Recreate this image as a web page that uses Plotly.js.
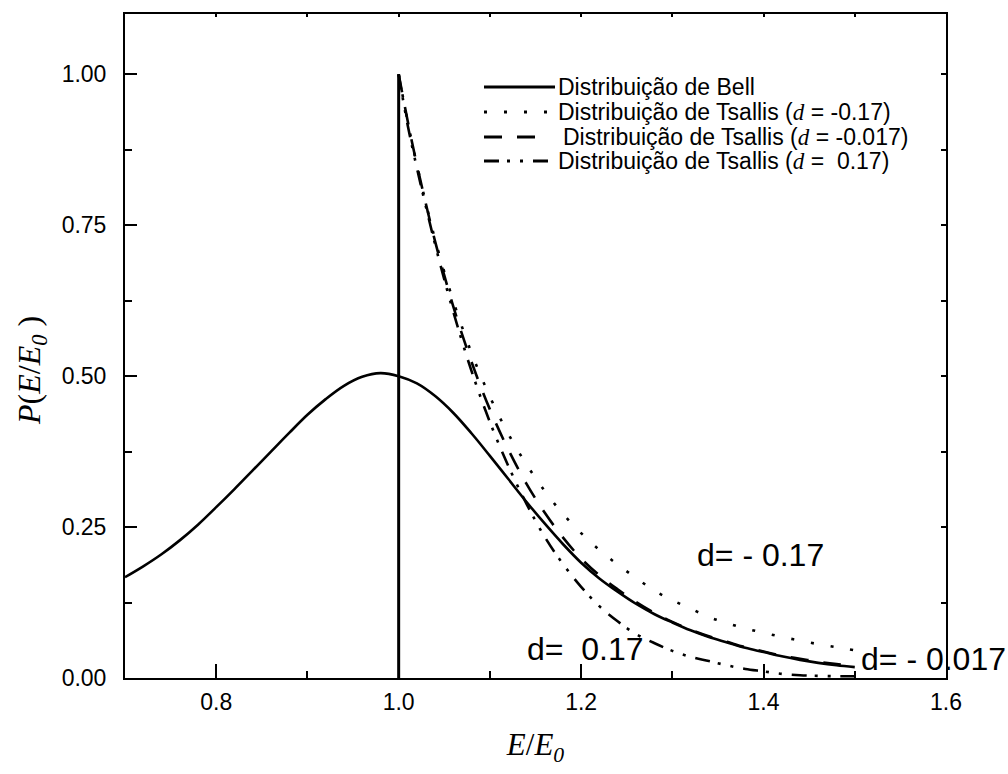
<!DOCTYPE html>
<html>
<head>
<meta charset="utf-8">
<script src="https://cdn.plot.ly/plotly-3.0.1.min.js"></script>
<style>
  html, body { margin: 0; padding: 0; background: #fff; }
  #chart { width: 1008px; height: 774px; }
</style>
</head>
<body>
<div id="chart"></div>
<script>
// Energy grid (E/E0) and probability values for each distribution
const bellE = [0.70, 0.72, 0.74, 0.76, 0.78, 0.80, 0.82, 0.84, 0.86, 0.88, 0.90, 0.92, 0.94, 0.96, 0.98,
               1.00, 1.02, 1.04, 1.06, 1.08, 1.10, 1.12, 1.14, 1.16, 1.18, 1.20, 1.22, 1.24, 1.26, 1.28,
               1.30, 1.32, 1.34, 1.36, 1.38, 1.40, 1.42, 1.44, 1.46, 1.48, 1.50];
const bellP = [0.167, 0.185, 0.205, 0.228, 0.254, 0.283, 0.313, 0.344, 0.375, 0.406, 0.436, 0.462, 0.484, 0.499, 0.505,
               0.500, 0.488, 0.467, 0.439, 0.405, 0.368, 0.330, 0.292, 0.256, 0.222, 0.191, 0.165, 0.143, 0.123, 0.106,
               0.092, 0.079, 0.068, 0.059, 0.050, 0.043, 0.036, 0.030, 0.025, 0.021, 0.018];

const tsallisE = [1.00, 1.01, 1.02, 1.04, 1.06, 1.08, 1.10, 1.12, 1.14, 1.16, 1.18, 1.20, 1.22, 1.24, 1.26, 1.28,
                  1.30, 1.32, 1.34, 1.36, 1.38, 1.40, 1.42, 1.44, 1.46, 1.48, 1.50];
// d = -0.17
const tsallisNeg017 = [1.000, 0.921, 0.850, 0.726, 0.624, 0.538, 0.466, 0.405, 0.354, 0.310, 0.272, 0.240, 0.212, 0.188, 0.166, 0.145,
                       0.129, 0.115, 0.101, 0.091, 0.082, 0.075, 0.068, 0.062, 0.056, 0.051, 0.046];
// d = -0.017
const tsallisNeg0017 = [1.000, 0.922, 0.850, 0.723, 0.615, 0.523, 0.445, 0.379, 0.322, 0.274, 0.233, 0.198, 0.170, 0.147, 0.126, 0.108,
                        0.093, 0.080, 0.069, 0.060, 0.051, 0.044, 0.037, 0.032, 0.027, 0.023, 0.020];
// d = 0.17
const tsallisPos017 = [1.000, 0.915, 0.845, 0.718, 0.606, 0.508, 0.424, 0.352, 0.289, 0.234, 0.189, 0.151, 0.119, 0.094, 0.073, 0.058,
                       0.045, 0.035, 0.028, 0.021, 0.015, 0.011, 0.0068, 0.0045, 0.0035, 0.003, 0.003];

// Threshold edge of the Tsallis distributions at E = E0
const edgeE = [1.0, 1.0];
const edgeP = [0.0, 1.0];

const ITALIC_D = '<span style="font-family:Liberation Serif;font-style:italic">d</span>';
const seriesNames = [
  'Distribuição de Bell',
  'Distribuição de Tsallis (' + ITALIC_D + ' = -0.17)',
  'Distribuição de Tsallis (' + ITALIC_D + ' = -0.017)',
  'Distribuição de Tsallis (' + ITALIC_D + ' =\u00a0 0.17)'
];
const seriesDash = ['solid', '3px,17px', '18px,15px', '15px,8px,3px,10px,3px,10px'];

const curveLabels = ['d= - 0.17', 'd=\u00a0 0.17', 'd= - 0.017'];
const curveLabelE = [1.397, 1.205, 1.586];
const curveLabelP = [0.203, 0.048, 0.031];

const INK = '#000';
const SANS = 'Liberation Sans, Arial, sans-serif';
const SERIF = 'Liberation Serif, Times New Roman, serif';

const line = (dash) => ({ color: INK, width: 2.6, dash: dash, shape: 'spline', smoothing: 1 });

const traces = [
  { x: bellE, y: bellP, mode: 'lines', line: line(seriesDash[0]), name: seriesNames[0] },
  { x: tsallisE, y: tsallisNeg017, mode: 'lines', line: line(seriesDash[1]), name: seriesNames[1] },
  { x: tsallisE, y: tsallisNeg0017, mode: 'lines', line: line(seriesDash[2]), name: seriesNames[2] },
  { x: tsallisE, y: tsallisPos017, mode: 'lines', line: line(seriesDash[3]), name: seriesNames[3] },
  { x: edgeE, y: edgeP, mode: 'lines', line: { color: INK, width: 3 }, showlegend: false },
  // carries the mirrored top/right axes
  { x: [], y: [], xaxis: 'x2', yaxis: 'y2', showlegend: false, hoverinfo: 'skip' }
];

// Plot frame in pixels, used to place the hand-built legend
const M = { l: 125, r: 62, t: 14, b: 96 };
const W = 1008, H = 774;
const pw = W - M.l - M.r, ph = H - M.t - M.b;
const px = (x) => (x - M.l) / pw;
const py = (y) => (H - M.b - y) / ph;

const legendRows = [87, 112, 137, 161];
const legendShapes = [];
const legendTexts = [];
legendRows.forEach((yy, i) => {
  legendShapes.push({
    type: 'line', xref: 'paper', yref: 'paper',
    x0: px(484), x1: px(i === 2 ? 549 : 555), y0: py(yy), y1: py(yy),
    line: { color: INK, width: 3, dash: seriesDash[i] }
  });
  legendTexts.push({
    xref: 'paper', yref: 'paper', x: px(i === 2 ? 561 : 556), y: py(yy),
    xanchor: 'left', yanchor: 'middle', showarrow: false,
    text: seriesNames[i], font: { family: SANS, size: 23, color: INK }
  });
});

const curveTexts = curveLabels.map((t, i) => ({
  x: curveLabelE[i], y: curveLabelP[i], xref: 'x', yref: 'y',
  text: t, showarrow: false, xanchor: 'center', yanchor: 'middle',
  font: { family: SANS, size: 32, color: INK }
}));

const yTitle = {
  xref: 'paper', yref: 'paper', x: px(31), y: py(371),
  text: '<i>P</i>(<i>E</i>/<i>E</i><sub><i>0</i></sub> )', textangle: -90,
  showarrow: false, xanchor: 'center', yanchor: 'middle',
  font: { family: SERIF, size: 32, color: INK }
};

const layout = {
  width: W, height: H,
  margin: M,
  paper_bgcolor: '#fff', plot_bgcolor: '#fff',
  showlegend: false,
  xaxis: {
    range: [0.7, 1.6], dtick: 0.2, tick0: 0.8, tickformat: '.1f',
    ticks: 'inside', ticklen: 14, tickwidth: 2, tickcolor: INK,
    minor: { ticks: 'inside', ticklen: 7, tickwidth: 2, dtick: 0.1, tick0: 0.7, tickcolor: INK, showgrid: false },
    showline: true, linewidth: 2, linecolor: INK, mirror: true,
    showgrid: false, zeroline: false, ticklabelstandoff: 2,
    tickfont: { family: SANS, size: 23, color: INK },
    title: { text: '<i>E</i>/<i>E</i><sub><i>0</i></sub>', font: { family: SERIF, size: 31, color: INK }, standoff: 20 }
  },
  yaxis: {
    range: [0, 1.1], dtick: 0.25, tick0: 0, tickformat: '.2f',
    ticks: 'inside', ticklen: 12, tickwidth: 2, tickcolor: INK,
    minor: { ticks: 'inside', ticklen: 7, tickwidth: 2, dtick: 0.125, tick0: 0, tickcolor: INK, showgrid: false },
    showline: true, linewidth: 2, linecolor: INK, mirror: true,
    showgrid: false, zeroline: false, ticklabelstandoff: 12,
    tickfont: { family: SANS, size: 23, color: INK }
  },
  xaxis2: {
    overlaying: 'x', side: 'top', anchor: 'y2', range: [0.7, 1.6], dtick: 0.1, tick0: 0.7,
    ticks: 'inside', ticklen: 3, tickwidth: 2, tickcolor: INK,
    showticklabels: false, showgrid: false, zeroline: false, showline: false
  },
  yaxis2: {
    overlaying: 'y', side: 'right', anchor: 'x2', range: [0, 1.1], dtick: 0.125, tick0: 0,
    ticks: 'inside', ticklen: 5, tickwidth: 2, tickcolor: INK,
    showticklabels: false, showgrid: false, zeroline: false, showline: false
  },
  shapes: legendShapes,
  annotations: legendTexts.concat(curveTexts, [yTitle])
};

Plotly.newPlot('chart', traces, layout, { displayModeBar: false, staticPlot: true });
</script>
</body>
</html>
